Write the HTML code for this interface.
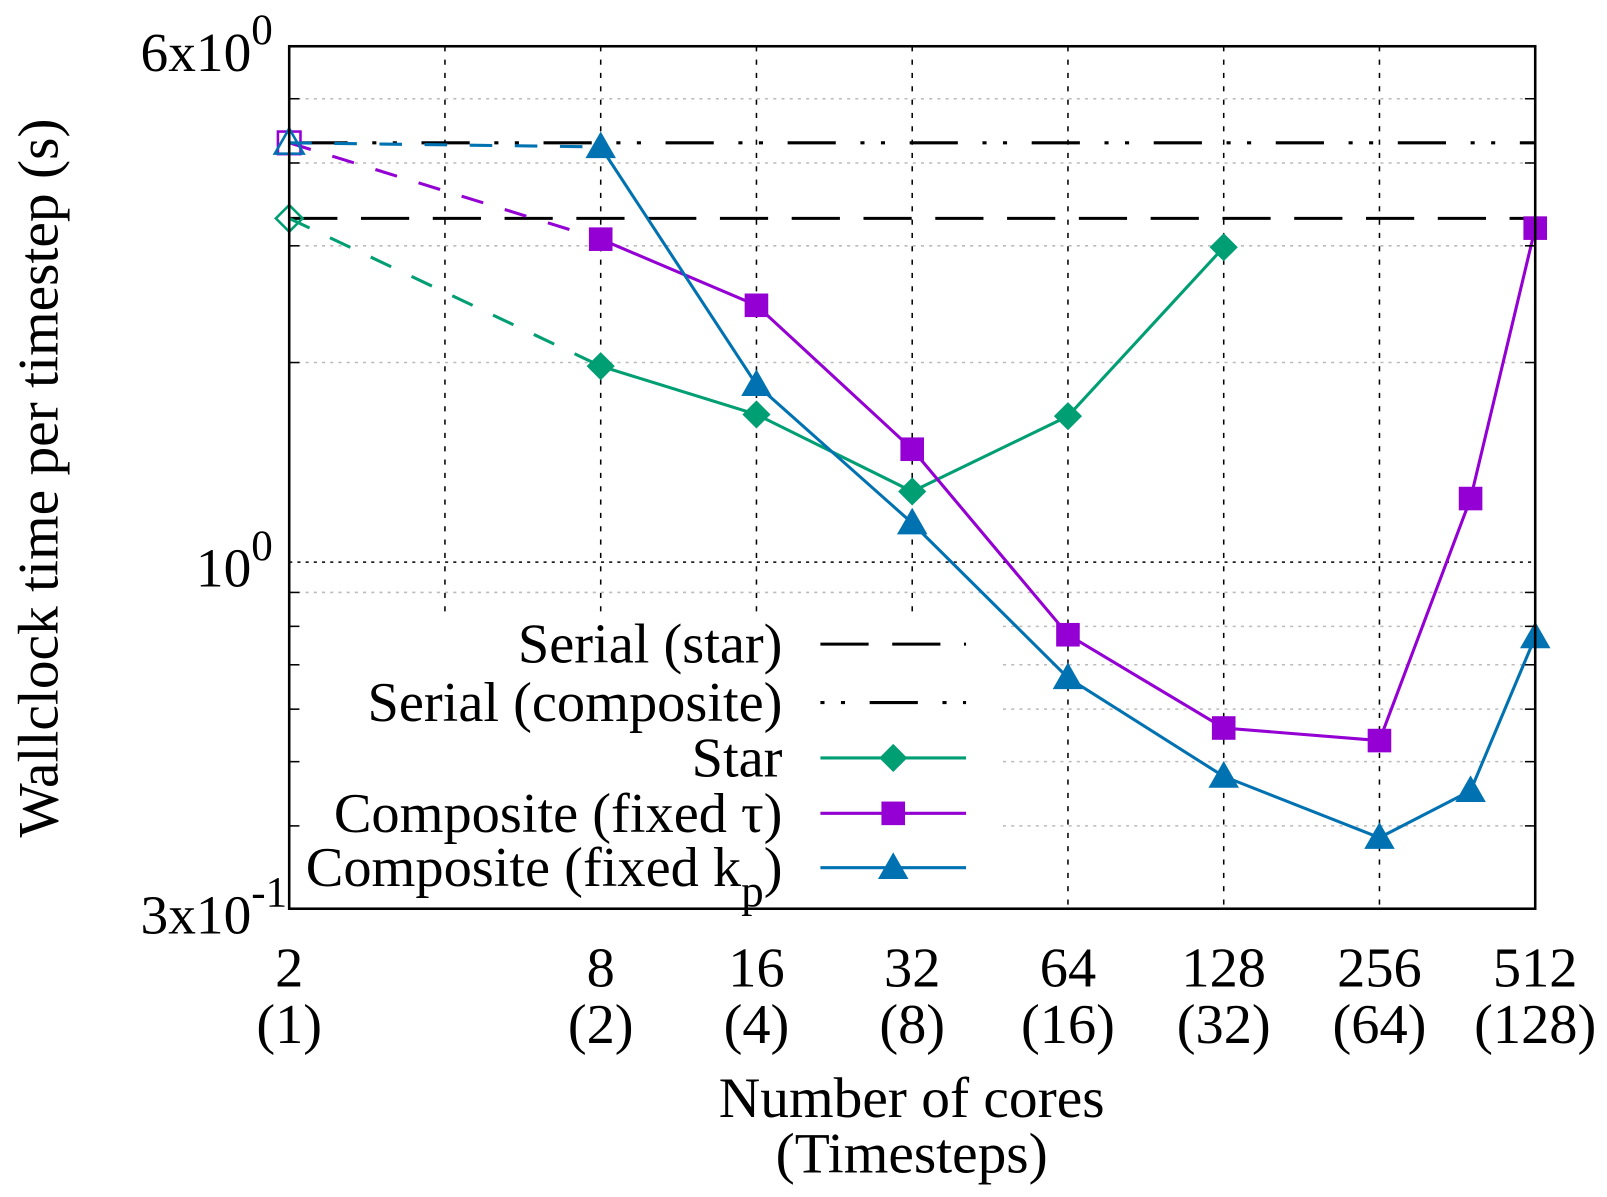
<!DOCTYPE html>
<html><head><meta charset="utf-8"><style>
html,body{margin:0;padding:0;background:#fff;}
svg{display:block;font-family:"Liberation Serif",serif;}
</style></head><body>
<svg id="chart" width="1607" height="1197" viewBox="0 0 1567 1167">
<g id="grid"></g>
<g id="series"></g>
<g id="legend"></g>
<rect x="282" y="45" width="1215" height="841" fill="none" stroke="#000" stroke-width="2.5"/>
<g id="axes"></g>
</svg>
<script>
const xCores = [2, 8, 16, 32, 64, 128, 256, 384, 512];
const xTickCores = [2, 8, 16, 32, 64, 128, 256, 512];
const xTickSteps = ["(1)", "(2)", "(4)", "(8)", "(16)", "(32)", "(64)", "(128)"];
const serialStar = 3.30;
const serialComposite = 4.29;
const starValues = [3.30, 1.975, 1.67, 1.278, 1.66, 2.985];
const tauValues = [4.29, 3.07, 2.44, 1.48, 0.777, 0.562, 0.538, 1.247, 3.19];
const kpValues = [4.29, 4.23, 1.852, 1.145, 0.669, 0.475, 0.384, 0.452, 0.771];
const yMinorTicks = [0.4, 0.5, 0.6, 0.7, 0.8, 0.9, 2, 3, 4, 5];

const X0 = 282, X1 = 1497, Y0 = 45, Y1 = 886;
const xs = c => X0 + (Math.log2(c) - 1) / 8 * (X1 - X0);
const LT = Math.log10(6), LB = Math.log10(0.3);
const ys = v => Y0 + (LT - Math.log10(v)) / (LT - LB) * (Y1 - Y0);
const NS = "http://www.w3.org/2000/svg";
function mk(tag, attrs, parent) {
  const e = document.createElementNS(NS, tag);
  for (const k in attrs) e.setAttribute(k, attrs[k]);
  parent.appendChild(e); return e;
}
const grid = document.getElementById('grid'), ser = document.getElementById('series'),
      leg = document.getElementById('legend'), axes = document.getElementById('axes');

yMinorTicks.forEach(v => {
  const l = mk('line', {x1: X0, x2: X1, y1: ys(v), y2: ys(v), stroke: '#bbb', 'stroke-width': 1.5, 'stroke-dasharray': '3,5'}, grid);
  
  
  const t = mk('line', {x1: X0, x2: X0 + 10, y1: ys(v), y2: ys(v), stroke: '#000', 'stroke-width': 1.5}, axes);
  
  
  const t2 = mk('line', {x1: X1 - 10, x2: X1, y1: ys(v), y2: ys(v), stroke: '#000', 'stroke-width': 1.5}, axes);
  
  
});
const g1 = mk('line', {x1: X0, x2: X1, y1: ys(1), y2: ys(1), stroke: '#000', 'stroke-width': 1.5, 'stroke-dasharray': '3,5'}, grid);


[4, 8, 16, 32, 64, 128, 256].forEach(c => {
  const l = mk('line', {x1: xs(c), x2: xs(c), y1: Y0, y2: Y1, stroke: '#000', 'stroke-width': 1.5, 'stroke-dasharray': '5,8'}, grid);
  
  
});

const s1 = mk('line', {x1: X0, x2: X1, y1: ys(serialStar), y2: ys(serialStar), stroke: '#000', 'stroke-width': 3, 'stroke-dasharray': '47,23'}, ser);


const s2 = mk('line', {x1: X0 + 10, x2: X1, y1: ys(serialComposite), y2: ys(serialComposite), stroke: '#000', 'stroke-width': 3, 'stroke-dasharray': '47,24,4,16,4,24'}, ser);



function marker(type, cx, cy, color, open, parent, name) {
  let e;
  if (type === 'diamond') { const r = 13; e = mk('polygon', {points: `${cx},${cy-r} ${cx+r},${cy} ${cx},${cy+r} ${cx-r},${cy}`}, parent); }
  else if (type === 'square') { const r = 11; e = mk('rect', {x: cx - r, y: cy - r, width: 2*r, height: 2*r}, parent); }
  else { const r = 14; e = mk('polygon', {points: `${cx},${cy-r} ${cx+r},${cy+r*0.75} ${cx-r},${cy+r*0.75}`}, parent); }
  e.setAttribute('fill', open ? 'none' : color);
  e.setAttribute('stroke', color);
  e.setAttribute('stroke-width', open ? 2.5 : 1);
  
  
}
function series(vals, color, type, name) {
  const dash = mk('line', {x1: xs(xCores[0]), y1: ys(vals[0]), x2: xs(xCores[1]), y2: ys(vals[1]), stroke: color, 'stroke-width': 3, 'stroke-dasharray': '22,22'}, ser);
  
  
  const pts = vals.slice(1).map((v, i) => xs(xCores[i + 1]) + ',' + ys(v)).join(' ');
  const pl = mk('polyline', {points: pts, fill: 'none', stroke: color, 'stroke-width': 3}, ser);
  
  
  vals.forEach((v, i) => marker(type, xs(xCores[i]), ys(v), color, i === 0, ser, name + '-point'));
}
series(starValues, '#009e73', 'diamond', 'star');
series(tauValues, '#9400d3', 'square', 'composite-tau');
series(kpValues, '#0072b2', 'triangle', 'composite-kp');

const lb = mk('rect', {x: 290, y: 600, width: 685, height: 284, fill: '#fff'}, leg);


const entries = [
  ['Serial (star)', '#000', '47,23', null, 628],
  ['Serial (composite)', '#000', '4,16,4,24,47,24', null, 685],
  ['Star', '#009e73', null, 'diamond', 739],
  ['Composite (fixed \u03c4)', '#9400d3', null, 'square', 793],
  ['Composite (fixed k', '#0072b2', null, 'triangle', 846]
];
entries.forEach((e, i) => {
  const t = mk('text', {x: 763, y: e[4] + 18, 'text-anchor': 'end', 'font-size': 55}, leg);
  t.textContent = e[0];
  if (i === 4) {
    const sb = mk('tspan', {'font-size': 44, dy: 20}, t); sb.textContent = 'p';
    const cl = mk('tspan', {dy: -20}, t); cl.textContent = ')';
  }
  
  
  const l = mk('line', {x1: 800, x2: 942, y1: e[4], y2: e[4], stroke: e[1], 'stroke-width': 3}, leg);
  if (e[2]) l.setAttribute('stroke-dasharray', e[2]);
  
  
  if (e[3]) marker(e[3], 871, e[4], e[1], false, leg, 'legend-marker');
});

xTickCores.forEach((c, i) => {
  const t = mk('text', {x: xs(c), y: 962, 'text-anchor': 'middle', 'font-size': 55}, axes);
  t.textContent = String(c);
  
  
  const t2 = mk('text', {x: xs(c), y: 1017, 'text-anchor': 'middle', 'font-size': 55}, axes);
  t2.textContent = xTickSteps[i];
  
  
});
[[6, '6x10', '0'], [1, '10', '0'], [0.3, '3x10', '-1']].forEach(a => {
  const t = mk('text', {x: 245, y: ys(a[0]) + 24, 'text-anchor': 'end', 'font-size': 54}, axes);
  t.textContent = a[1];
  
  
  const s = mk('text', {x: 245, y: ys(a[0]) - 2, 'font-size': 42}, axes);
  s.textContent = a[2];
  
  
});
const xt = mk('text', {x: 889, y: 1089, 'text-anchor': 'middle', 'font-size': 56}, axes);
xt.textContent = 'Number of cores';


const xt2 = mk('text', {x: 889, y: 1143, 'text-anchor': 'middle', 'font-size': 56}, axes);
xt2.textContent = '(Timesteps)';


const yt = mk('text', {x: 0, y: 0, 'text-anchor': 'middle', 'font-size': 56, transform: 'translate(56,466) rotate(-90)'}, axes);
yt.textContent = 'Wallclock time per timestep (s)';


</script>
</body></html>
